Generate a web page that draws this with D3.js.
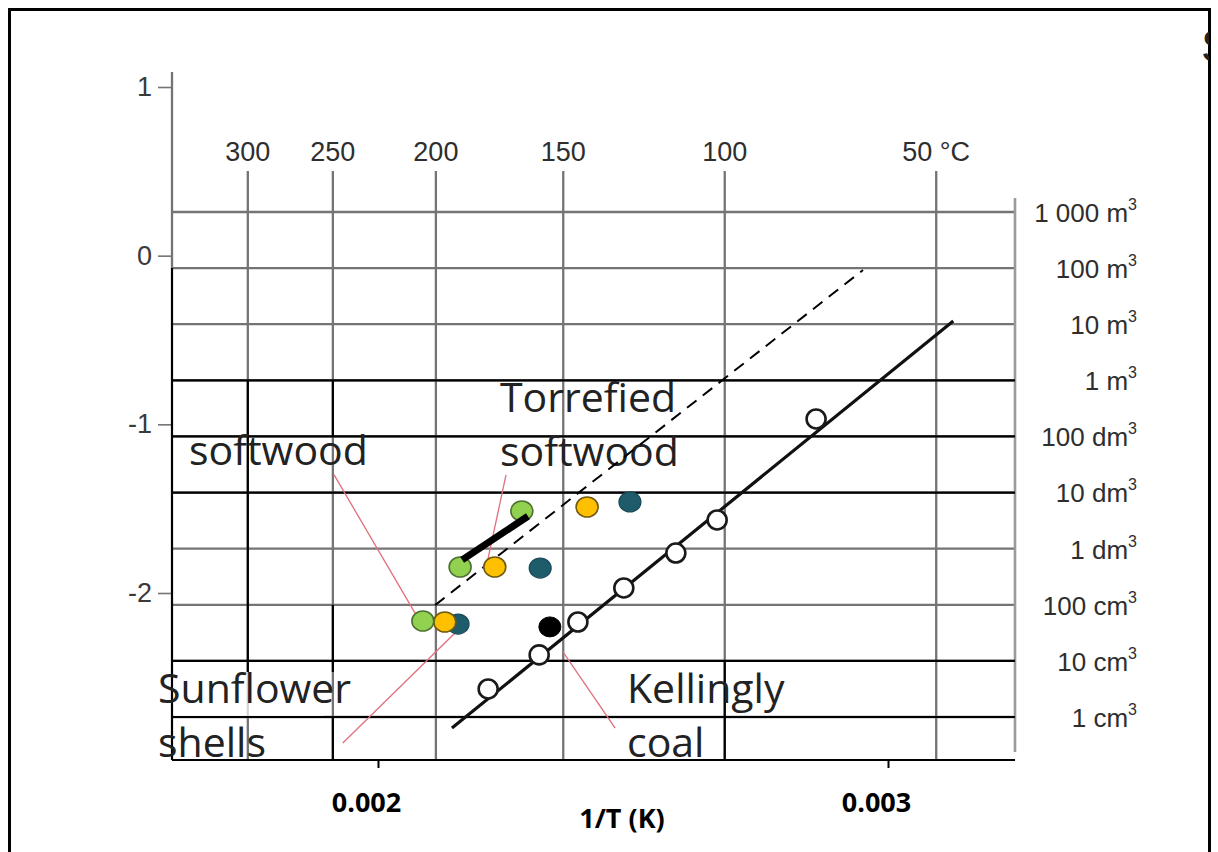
<!DOCTYPE html>
<html>
<head>
<meta charset="utf-8">
<script src="https://cdn.jsdelivr.net/npm/d3@7/dist/d3.min.js"></script>
<style>
  html, body { margin: 0; padding: 0; background: #fff; }
  svg { display: block; }
</style>
</head>
<body>
<script>
// ---- data -------------------------------------------------------------
// temperature scale along the top (°C), placed at 1/T (K)
const tempC = [300, 250, 200, 150, 100, 50];
const tempLabels = ["300", "250", "200", "150", "100", "50 °C"];
// bottom axis ticks, 1/T (1/K)
const invTTicks = [0.002, 0.003];
// left axis ticks (log units)
const logTicks = [1, 0, -1, -2];
// right axis: critical pile volume, cm³
const volumeCm3 = [1e9, 1e8, 1e7, 1e6, 1e5, 1e4, 1e3, 1e2, 1e1, 1e0];
const volumeText = ["1 000 m", "100 m", "10 m", "1 m", "100 dm", "10 dm", "1 dm", "100 cm", "10 cm", "1 cm"];

// reference measurements (open circles)
const refInvT = [0.002216, 0.002316, 0.002392, 0.002482, 0.002584, 0.002665, 0.002859];
const refLog  = [-2.569, -2.367, -2.172, -1.970, -1.763, -1.567, -0.968];
// Kellingly coal
const coalInvT = [0.002337];
const coalLog  = [-2.201];
// softwood
const softInvT = [0.002088, 0.002161, 0.002282];
const softLog  = [-2.166, -1.846, -1.514];
// torrefied softwood
const torrInvT = [0.002131, 0.002229, 0.002410];
const torrLog  = [-2.172, -1.846, -1.490];
// sunflower shells
const sunInvT = [0.002157, 0.002318, 0.002494];
const sunLog  = [-2.184, -1.852, -1.460];

// fitted line through the reference measurements
const fitInvT = [0.002145, 0.003128];
const fitLog  = [-2.801, -0.387];
// dashed line
const dashInvT = [0.002112, 0.002951];
const dashLog  = [-2.072, -0.085];
// short thick segment (softwood trend)
const trendInvT = [0.002165, 0.002294];
const trendLog  = [-1.804, -1.545];

// leader lines for the text callouts: [x0, y0, x1, y1] in data units
const leaderSoft = [0.001914, -1.300, 0.002075, -2.131];
const leaderTorr = [0.002251, -1.300, 0.002214, -1.822];
const leaderSun  = [0.001931, -2.889, 0.002161, -2.208];
const leaderCoal = [0.002363, -2.350, 0.002465, -2.801];

// ---- layout -----------------------------------------------------------
const W = 1218, H = 852;
const L = 172, R = 1015, B = 760;

const svg = d3.select("body").append("svg")
  .attr("width", W).attr("height", H);

const x = d3.scaleLinear().domain([0.002, 0.003]).range([378, 888]);
const y = d3.scaleLinear().domain([-2, 1]).range([593, 87]);
const vol = d3.scaleLog().domain([1, 1e9]).range([717, 212]);
const tX = c => x(1 / (c + 273.15));

const grey = "#747474";
const sans = "'Liberation Sans', Arial, sans-serif";
const body = "'Open Sans', 'Noto Sans', sans-serif";

// outer frame
svg.append("rect")
  .attr("x", 9.5).attr("y", 9.5).attr("width", 1200).attr("height", 870)
  .attr("fill", "none").attr("stroke", "#000").attr("stroke-width", 3);

// clipped glyph at the upper right edge
svg.append("clipPath").attr("id", "edge")
  .append("rect").attr("x", 1203).attr("y", 10).attr("width", 6).attr("height", 80);
svg.append("text")
  .attr("x", 1201).attr("y", 62)
  .attr("font-family", sans).attr("font-size", 46).attr("fill", "#222")
  .attr("clip-path", "url(#edge)")
  .text("S");

// ---- grey grid ---------------------------------------------------------
const grid = svg.append("g").attr("stroke", grey).attr("stroke-width", 2.3);
grid.selectAll("line.h").data(volumeCm3).join("line")
  .attr("class", "h")
  .attr("x1", L).attr("x2", R)
  .attr("y1", d => vol(d)).attr("y2", d => vol(d));
grid.selectAll("line.v").data(tempC).join("line")
  .attr("class", "v")
  .attr("x1", d => tX(d)).attr("x2", d => tX(d))
  .attr("y1", 171).attr("y2", B);

// left axis (log units)
const leftAxis = d3.axisLeft(y).tickValues(logTicks)
  .tickFormat(d3.format("d")).tickSize(14).tickPadding(6);
const gl = svg.append("g").attr("transform", `translate(${L},0)`).call(leftAxis);
gl.select(".domain").remove();
gl.selectAll(".tick line").attr("stroke", grey).attr("stroke-width", 1.6);
gl.selectAll(".tick text")
  .attr("font-family", sans).attr("font-size", 27).attr("fill", "#3a3a3a")
  .text(d => d < 0 ? "-" + Math.abs(d) : d);
svg.append("line").attr("x1", L).attr("x2", L).attr("y1", 72).attr("y2", 268)
  .attr("stroke", grey).attr("stroke-width", 2.3);

// right axis (volume)
svg.append("line").attr("x1", R).attr("x2", R).attr("y1", 198).attr("y2", 752)
  .attr("stroke", "#9a9a9a").attr("stroke-width", 2.6);
const rightAxis = d3.axisRight(vol).tickValues(volumeCm3).tickSize(0).tickFormat(() => "");
const gr = svg.append("g").attr("transform", `translate(${R},0)`).call(rightAxis);
gr.select(".domain").remove();
gr.selectAll(".tick text").remove();
gr.selectAll(".tick").append("text")
  .attr("x", 122).attr("dy", "0.36em")
  .attr("text-anchor", "end")
  .attr("font-family", sans).attr("font-size", 26).attr("fill", "#2e2e2e")
  .each(function(d, i) {
    const t = d3.select(this);
    t.append("tspan").text(volumeText[i]);
    t.append("tspan").attr("font-size", 16).attr("dy", "-0.75em").text("3");
  });

// temperature labels along the top
svg.append("g").selectAll("text").data(tempC).join("text")
  .attr("x", d => tX(d)).attr("y", 161)
  .attr("text-anchor", "middle")
  .attr("font-family", sans).attr("font-size", 27).attr("fill", "#2e2e2e")
  .text((d, i) => tempLabels[i]);

// soften the grid under the lower-left callout
svg.append("rect").attr("x", 174).attr("y", 672).attr("width", 150).attr("height", 44)
  .attr("fill", "#fff").attr("opacity", 0.7);

// ---- black table lines ---------------------------------------------------
const ink = svg.append("g").attr("stroke", "#000").attr("stroke-width", 2.2);
[1e6, 1e5, 1e4, 1e1, 1e0].forEach(v => {
  ink.append("line").attr("x1", L).attr("x2", R).attr("y1", vol(v)).attr("y2", vol(v));
});
ink.append("line").attr("x1", L).attr("x2", R).attr("y1", B).attr("y2", B);
ink.append("line").attr("x1", L).attr("x2", L).attr("y1", 268).attr("y2", B);
ink.append("line").attr("x1", tX(300)).attr("x2", tX(300)).attr("y1", vol(1e6)).attr("y2", 672);
ink.append("line").attr("x1", tX(250)).attr("x2", tX(250)).attr("y1", vol(1e6)).attr("y2", vol(1e5));
ink.append("line").attr("x1", tX(250)).attr("x2", tX(250)).attr("y1", vol(1e2)).attr("y2", 672);
ink.append("line").attr("x1", tX(250)).attr("x2", tX(250)).attr("y1", vol(1e0)).attr("y2", B);
ink.append("line").attr("x1", tX(100)).attr("x2", tX(100)).attr("y1", vol(1e1)).attr("y2", B);

// bottom axis, 1/T
const bottomAxis = d3.axisBottom(x).tickValues(invTTicks)
  .tickFormat(d3.format(".3f")).tickSize(8).tickPadding(25);
const gb = svg.append("g").attr("transform", `translate(0,${B})`).call(bottomAxis);
gb.select(".domain").remove();
gb.selectAll(".tick line").attr("stroke", "#000").attr("stroke-width", 2);
gb.selectAll(".tick text")
  .attr("dx", -12)
  .attr("font-family", body).attr("font-weight", 700).attr("font-size", 27).attr("fill", "#000");
svg.append("text")
  .attr("x", 622).attr("y", 828).attr("text-anchor", "middle")
  .attr("font-family", body).attr("font-weight", 700).attr("font-size", 27).attr("fill", "#000")
  .text("1/T (K)");

// ---- callout text --------------------------------------------------------
const callouts = [
  { lines: ["Torrefied", "softwood"], x: 500, y: 412 },
  { lines: ["softwood"], x: 189, y: 465 },
  { lines: ["Sunflower", "shells"], x: 158, y: 703 },
  { lines: ["Kellingly", "coal"], x: 627, y: 703 }
];
callouts.forEach(c => {
  c.lines.forEach((s, i) => {
    svg.append("text")
      .attr("x", c.x).attr("y", c.y + i * 54)
      .attr("font-family", body).attr("font-size", 41).attr("fill", "#222")
      .text(s);
  });
});

// leader lines
svg.append("g").selectAll("line")
  .data([leaderSoft, leaderTorr, leaderSun, leaderCoal]).join("line")
  .attr("x1", d => x(d[0])).attr("y1", d => y(d[1]))
  .attr("x2", d => x(d[2])).attr("y2", d => y(d[3]))
  .attr("stroke", "#e0707a").attr("stroke-width", 1.3);

// ---- lines ---------------------------------------------------------------
const seg = (xs, ys) => d3.line()(xs.map((v, i) => [x(v), y(ys[i])]));
svg.append("path").attr("d", seg(dashInvT, dashLog))
  .attr("stroke", "#000").attr("stroke-width", 2).attr("stroke-dasharray", "12,8").attr("fill", "none");
svg.append("path").attr("d", seg(fitInvT, fitLog))
  .attr("stroke", "#111").attr("stroke-width", 3.2).attr("fill", "none");

// ---- points --------------------------------------------------------------
const dots = (xs, ys, fill, stroke, sw) =>
  svg.append("g").selectAll("ellipse").data(xs).join("ellipse")
    .attr("cx", d => x(d)).attr("cy", (d, i) => y(ys[i]))
    .attr("rx", 11).attr("ry", 10)
    .attr("fill", fill).attr("stroke", stroke).attr("stroke-width", sw);

svg.append("g").selectAll("circle").data(refInvT).join("circle")
  .attr("cx", d => x(d)).attr("cy", (d, i) => y(refLog[i]))
  .attr("r", 9.5).attr("fill", "#fff").attr("stroke", "#1a1a1a").attr("stroke-width", 2.6);
dots(coalInvT, coalLog, "#000", "#000", 1);
dots(sunInvT, sunLog, "#1e5b6b", "#1a4a57", 1.2);
dots(torrInvT, torrLog, "#ffc000", "#6f5a10", 1.6);
dots(softInvT, softLog, "#92d050", "#4d7231", 1.6);

// thick softwood trend segment
svg.append("path").attr("d", seg(trendInvT, trendLog))
  .attr("stroke", "#000").attr("stroke-width", 7).attr("fill", "none");
</script>
</body>
</html>
